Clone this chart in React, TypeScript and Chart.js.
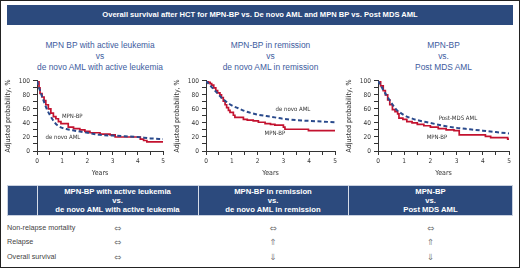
import React, { useEffect, useRef } from 'react';
import { Chart, registerables } from 'chart.js';

Chart.register(...registerables);

// ---------- data ----------
const YEAR_TICKS = [0, 1, 2, 3, 4, 5];
const PROB_TICKS = [0, 20, 40, 60, 80, 100];

// Panel 1: active leukemia
const activeMpnYears = [0, 0.08, 0.12, 0.2, 0.28, 0.35, 0.45, 0.55, 0.65, 0.75, 0.85, 0.95, 1.24, 1.45, 1.7, 1.9, 2.1, 2.5, 2.9, 3.1, 4.1, 4.23, 4.36, 5.0];
const activeMpnProb = [100, 90, 82, 77, 72, 66, 60, 54, 49, 46, 42, 39, 34, 32, 30, 28, 26, 24, 23, 20, 17, 15, 13, 13];
const activeDenovoYears = [0, 0.1, 0.2, 0.3, 0.4, 0.5, 0.6, 0.7, 0.8, 1.0, 1.2, 1.5, 2.0, 2.5, 3.0, 3.5, 4.0, 4.5, 5.0];
const activeDenovoProb = [100, 88, 78, 68, 59, 52, 46, 41, 37, 33, 31, 29, 26, 23, 22, 21, 20, 18, 17];

// Panel 2: remission
const remissionMpnYears = [0, 0.09, 0.16, 0.22, 0.3, 0.38, 0.45, 0.54, 0.6, 0.67, 0.74, 0.8, 0.87, 0.93, 1.06, 1.12, 1.45, 1.6, 1.83, 2.03, 2.29, 2.5, 2.67, 3.0, 3.06, 3.97, 5.0];
const remissionMpnProb = [100, 98, 96, 94, 90, 86, 83, 80, 76, 71, 66, 62, 58, 55, 51, 48, 45, 44, 43, 41, 39, 38, 37, 34, 31, 29, 29];
const remissionDenovoYears = [0, 0.2, 0.4, 0.6, 0.8, 1.0, 1.25, 1.5, 2.0, 2.5, 3.0, 3.5, 4.0, 4.5, 5.0];
const remissionDenovoProb = [100, 92, 84, 76, 70, 65, 61, 57, 52, 49, 46, 44, 43, 42, 41];

// Panel 3: post MDS AML
const postMdsMpnYears = [0, 0.1, 0.2, 0.28, 0.37, 0.45, 0.55, 0.65, 0.75, 0.8, 0.95, 1.1, 1.3, 1.5, 1.75, 2.0, 2.3, 2.6, 2.9, 3.1, 4.1, 4.3, 4.95, 5.0];
const postMdsMpnProb = [100, 93, 86, 80, 73, 66, 59, 56, 53, 47, 45, 42, 40, 38, 36, 34, 32, 30, 29, 23, 21, 19, 17, 17];
const postMdsCmpYears = [0, 0.1, 0.2, 0.3, 0.4, 0.5, 0.6, 0.7, 0.8, 1.0, 1.25, 1.5, 2.0, 2.5, 3.0, 3.5, 4.0, 4.5, 5.0];
const postMdsCmpProb = [100, 94, 87, 81, 75, 69, 64, 59, 56, 51, 47, 44, 40, 36, 33, 31, 29, 27, 25];

const panelTitles = [
  ['MPN BP with active leukemia', 'vs', 'de novo AML with active leukemia'],
  ['MPN-BP in remission', 'vs', 'de novo AML in remission'],
  ['MPN-BP', 'vs.', 'Post MDS AML'],
];

const tableHeaders = [
  ['MPN-BP with active leukemia', 'vs.', 'de novo AML with active leukemia'],
  ['MPN-BP in remission', 'vs.', 'de novo AML in remission'],
  ['MPN-BP', 'vs.', 'Post MDS AML'],
];
const outcomeRows = ['Non-relapse mortality', 'Relapse', 'Overall survival'];
const outcomeActive = ['\u21D4', '\u21D4', '\u21D4'];
const outcomeRemission = ['\u21D4', '\u21D1', '\u21D3'];
const outcomePostMds = ['\u21D4', '\u21D1', '\u21D3'];

// ---------- styles ----------
const NAVY = '#2c4a7d';
const RED = '#c3122f';
const BLUE = '#2a4a8c';
const TITLE_BLUE = '#3d5b9e';
const SANS = "'Liberation Sans', Arial, Helvetica, sans-serif";
const NARROW = "'Liberation Sans Narrow', 'DejaVu Sans Condensed', 'Liberation Sans', Arial, sans-serif";

type Label = { text: string; x: number; y: number };

type PanelProps = {
  mpnYears: number[];
  mpnProb: number[];
  cmpYears: number[];
  cmpProb: number[];
  labels: Label[];
  left: number;
  top: number;
  width: number;
  height: number;
  padTop: number;
  padRight: number;
};

function Panel(p: PanelProps) {
  const ref = useRef<HTMLCanvasElement | null>(null);
  useEffect(() => {
    if (!ref.current) return;
    const labelPlugin = {
      id: 'curveLabels',
      afterDatasetsDraw(chart: any) {
        const { ctx, scales } = chart;
        ctx.save();
        ctx.font = `6px ${NARROW}`;
        ctx.fillStyle = '#333';
        ctx.textAlign = 'center';
        ctx.textBaseline = 'middle';
        for (const l of p.labels) {
          ctx.fillText(l.text, scales.x.getPixelForValue(l.x), scales.y.getPixelForValue(l.y));
        }
        ctx.restore();
      },
    };
    const chart = new Chart(ref.current, {
      type: 'line',
      data: {
        datasets: [
          {
            data: p.cmpYears.map((t, i) => ({ x: t, y: p.cmpProb[i] })),
            borderColor: BLUE,
            borderWidth: 2,
            borderDash: [4, 2.5],
            pointRadius: 0,
            cubicInterpolationMode: 'monotone',
            fill: false,
          },
          {
            data: p.mpnYears.map((t, i) => ({ x: t, y: p.mpnProb[i] })),
            borderColor: RED,
            borderWidth: 1.7,
            stepped: true,
            pointRadius: 0,
            fill: false,
          },
        ],
      },
      options: {
        responsive: false,
        animation: false,
        events: [],
        layout: { padding: { top: p.padTop, right: p.padRight, left: 0, bottom: 0 } },
        plugins: { legend: { display: false }, tooltip: { enabled: false } },
        scales: {
          x: {
            type: 'linear',
            min: 0,
            max: 5,
            afterFit: (s: any) => { s.height = 27; },
            border: { display: true, color: '#333', width: 1 },
            grid: { drawOnChartArea: false, drawTicks: true, tickLength: 4, tickColor: '#333' },
            ticks: {
              stepSize: 0.5,
              autoSkip: false,
              maxRotation: 0,
              padding: 2,
              color: '#333',
              font: { family: NARROW, size: 6.5 },
              callback: (v: any) => (YEAR_TICKS.includes(Number(v)) ? String(v) : ''),
            },
            title: { display: true, text: 'Years', color: '#333', font: { family: NARROW, size: 7 }, padding: { top: 0, bottom: 1 } },
          },
          y: {
            type: 'linear',
            min: 0,
            max: 100,
            afterFit: (s: any) => { s.width = 37; },
            border: { display: true, color: '#333', width: 1 },
            grid: { drawOnChartArea: false, drawTicks: true, tickLength: 4, tickColor: '#333' },
            ticks: {
              stepSize: 10,
              autoSkip: false,
              padding: 3,
              color: '#333',
              font: { family: NARROW, size: 6.5 },
              callback: (v: any) => (PROB_TICKS.includes(Number(v)) ? String(v) : ''),
            },
            title: { display: true, text: 'Adjusted probability, %', color: '#333', font: { family: NARROW, size: 7 }, padding: { top: 4, bottom: 0 } },
          },
        },
      },
      plugins: [labelPlugin],
    } as any);
    return () => chart.destroy();
  }, []);
  return (
    <canvas
      ref={ref}
      width={p.width}
      height={p.height}
      style={{ position: 'absolute', left: p.left, top: p.top, width: p.width, height: p.height }}
    />
  );
}

function abs(left: number, top: number, width: number, height: number, extra: any = {}) {
  return { position: 'absolute' as const, left, top, width, height, boxSizing: 'border-box' as const, ...extra };
}

export default function App() {
  useEffect(() => {
    document.body.style.margin = '0';
  }, []);

  const plotCenters = [100, 270.5, 443.5];
  const colX = [7, 37, 198, 348, 513];
  const symbolCols = [outcomeActive, outcomeRemission, outcomePostMds];

  return (
    <div style={{ position: 'absolute', left: 0, top: 0, width: 520, height: 268, background: '#fff', fontFamily: SANS, overflow: 'hidden' }}>
      {/* header bar */}
      <div style={abs(7, 5, 506, 20, { background: NAVY, color: '#fff', fontWeight: 'bold', fontSize: 7.6, lineHeight: '20px', textAlign: 'center', whiteSpace: 'nowrap' })}>
        Overall survival after HCT for MPN-BP vs. De novo AML and MPN BP vs. Post MDS AML
      </div>

      {/* panel titles */}
      {panelTitles.map((lines, i) => (
        <div key={i} style={abs(plotCenters[i] - 85, 39.5, 170, 33, { color: TITLE_BLUE, fontSize: 8.4, lineHeight: '11px', textAlign: 'center', whiteSpace: 'nowrap' })}>
          {lines.map((l, j) => <div key={j}>{l}</div>)}
        </div>
      ))}

      <Panel mpnYears={activeMpnYears} mpnProb={activeMpnProb} cmpYears={activeDenovoYears} cmpProb={activeDenovoProb}
        labels={[{ text: 'MPN-BP', x: 1.4, y: 49 }, { text: 'de novo AML', x: 1.03, y: 20 }]}
        left={0} top={74} width={175} height={104} padTop={6} padRight={12} />
      <Panel mpnYears={remissionMpnYears} mpnProb={remissionMpnProb} cmpYears={remissionDenovoYears} cmpProb={remissionDenovoProb}
        labels={[{ text: 'de novo AML', x: 3.37, y: 60 }, { text: 'MPN-BP', x: 2.67, y: 25 }]}
        left={169} top={74} width={176} height={104} padTop={5} padRight={10} />
      <Panel mpnYears={postMdsMpnYears} mpnProb={postMdsMpnProb} cmpYears={postMdsCmpYears} cmpProb={postMdsCmpProb}
        labels={[{ text: 'Post-MDS AML', x: 3.05, y: 46 }, { text: 'MPN-BP', x: 2.25, y: 20 }]}
        left={341} top={74} width={177} height={104} padTop={6} padRight={9} />

      {/* table header */}
      <div style={abs(7, 185, 506, 31, { background: NAVY, border: '1px solid #c9d1e0' })} />
      {[0, 1, 2, 3].map((c) => (
        <div key={c} style={abs(colX[c], 185, colX[c + 1] - colX[c], 31, { borderLeft: c > 0 ? '1px solid #d6dce8' : 'none' })} />
      ))}
      {tableHeaders.map((lines, i) => (
        <div key={i} style={abs(colX[i + 1], 187, colX[i + 2] - colX[i + 1], 27, { color: '#fff', fontWeight: 'bold', fontSize: 7.7, lineHeight: '9px', textAlign: 'center', whiteSpace: 'nowrap' })}>
          {lines.map((l, j) => <div key={j}>{l}</div>)}
        </div>
      ))}

      {/* rows */}
      {outcomeRows.map((r, i) => {
        const cy = [228, 242, 257][i];
        return (
          <React.Fragment key={r}>
            <div style={abs(7, cy - 6, 120, 12, { color: '#444', fontSize: 7.2, lineHeight: '12px', whiteSpace: 'nowrap' })}>{r}</div>
            {symbolCols.map((col, c) => (
              <div key={c} style={abs(colX[c + 1], cy - 6, colX[c + 2] - colX[c + 1], 12, { color: '#7a7a7a', fontSize: 8.5, lineHeight: '12px', textAlign: 'center', fontFamily: "'DejaVu Sans', sans-serif" })}>{col[i]}</div>
            ))}
          </React.Fragment>
        );
      })}

      {/* outer frame */}
      <div style={abs(0, 0, 520, 268, { border: '1.5px solid #222', pointerEvents: 'none' })} />
    </div>
  );
}
